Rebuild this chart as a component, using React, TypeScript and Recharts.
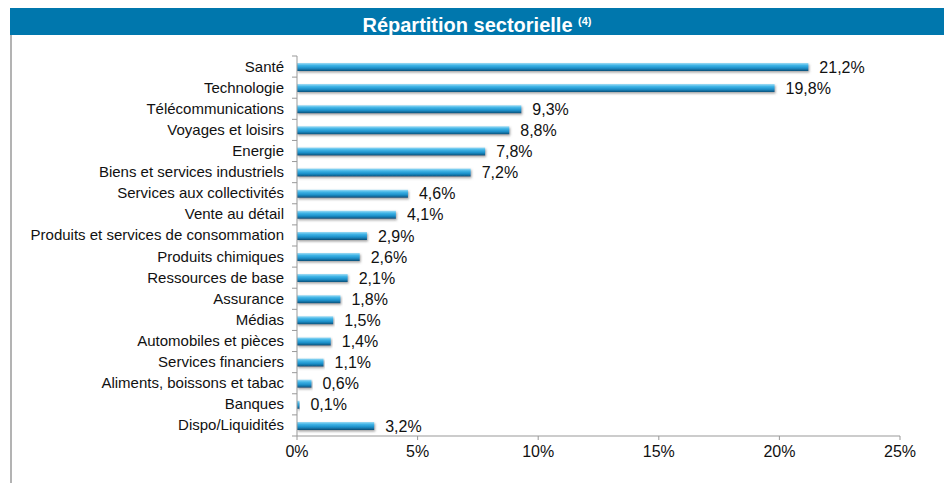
import { BarChart, Bar, XAxis, YAxis, LabelList } from "recharts";

const sectors = [
    "Santé",
    "Technologie",
    "Télécommunications",
    "Voyages et loisirs",
    "Energie",
    "Biens et services industriels",
    "Services aux collectivités",
    "Vente au détail",
    "Produits et services de consommation",
    "Produits chimiques",
    "Ressources de base",
    "Assurance",
    "Médias",
    "Automobiles et pièces",
    "Services financiers",
    "Aliments, boissons et tabac",
    "Banques",
    "Dispo/Liquidités"
];

const weights = [21.2, 19.8, 9.3, 8.8, 7.8, 7.2, 4.6, 4.1, 2.9, 2.6, 2.1, 1.8, 1.5, 1.4, 1.1, 0.6, 0.1, 3.2];

const xTicks = [0, 5, 10, 15, 20, 25];

const data = sectors.map((name, i) => ({ name, value: weights[i] }));

const FONT = "'Liberation Sans', Arial, sans-serif";
const PLOT_TOP = 56;
const PLOT_BOTTOM = 436;
const BAND = (PLOT_BOTTOM - PLOT_TOP) / sectors.length;

// category label + small boundary ticks between rows, like the original
function SectorTick(props: any) {
    const { x, y, payload, index } = props;
    const last = index === sectors.length - 1;
    return (
        <g>
            <line x1={x - 5} x2={x} y1={y - BAND / 2} y2={y - BAND / 2} stroke="#999" />
            {last && <line x1={x - 5} x2={x} y1={y + BAND / 2} y2={y + BAND / 2} stroke="#999" />}
            <text x={x - 13} y={y} dy={5} textAnchor="end" fontSize={15} fontFamily={FONT} fill="#111">
                {payload.value}
            </text>
        </g>
    );
}

const fmt = (v: any) => Number(v).toFixed(1).replace(".", ",") + "%";

export default function App() {
    return (
        <div style={{ position: "absolute", left: 0, top: 0, width: 944, height: 483, background: "#fff", fontFamily: FONT }}>
            <div
                style={{
                    position: "absolute",
                    left: 10,
                    top: 8,
                    width: 934,
                    height: 27,
                    background: "#0077ad",
                    color: "#fff",
                    fontWeight: "bold",
                    fontSize: 20,
                    lineHeight: "27px",
                    textAlign: "center"
                }}
            >
                Répartition sectorielle <sup style={{ fontSize: 11, verticalAlign: "7px" }}>(4)</sup>
            </div>
            <div style={{ position: "absolute", left: 10, top: 35, width: 2, height: 448, background: "#b3b3b3" }} />
            <BarChart
                width={944}
                height={483}
                data={data}
                layout="vertical"
                margin={{ top: PLOT_TOP, right: 44, bottom: 17, left: 0 }}
                barCategoryGap={0}
            >
                <defs>
                    <linearGradient id="barGrad" x1="0" y1="0" x2="0" y2="1">
                        <stop offset="0%" stopColor="#9fdcf5" />
                        <stop offset="30%" stopColor="#3fb4e6" />
                        <stop offset="65%" stopColor="#1c8fc9" />
                        <stop offset="100%" stopColor="#0b4f78" />
                    </linearGradient>
                    <filter id="barShadow" x="-5%" y="-50%" width="110%" height="200%">
                        <feDropShadow dx={1} dy={1.5} stdDeviation={0.8} floodColor="#666" floodOpacity={0.6} />
                    </filter>
                </defs>
                <XAxis
                    type="number"
                    domain={[0, 25]}
                    ticks={xTicks}
                    tickFormatter={(v) => `${v}%`}
                    height={30}
                    stroke="#999"
                    tickSize={4}
                    tick={{ fontSize: 16, fill: "#111", fontFamily: FONT }}
                    tickMargin={6}
                />
                <YAxis
                    type="category"
                    dataKey="name"
                    width={297}
                    stroke="#999"
                    tickLine={false}
                    tickSize={0}
                    tickMargin={0}
                    interval={0}
                    tick={<SectorTick />}
                />
                <Bar dataKey="value" barSize={8} fill="url(#barGrad)" filter="url(#barShadow)" isAnimationActive={false}>
                    <LabelList
                        dataKey="value"
                        position="right"
                        offset={11}
                        formatter={fmt}
                        style={{ fontSize: 16, fill: "#111", fontFamily: FONT }}
                    />
                </Bar>
            </BarChart>
        </div>
    );
}
